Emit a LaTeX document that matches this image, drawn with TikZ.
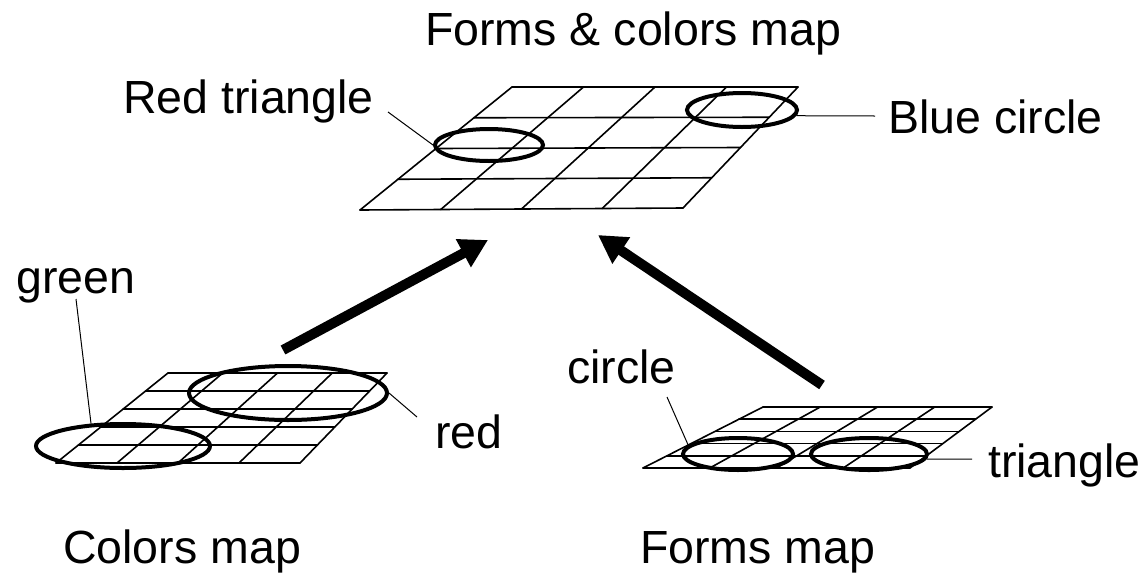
\documentclass[tikz,border=0pt]{standalone}
\usepackage{fontspec}
\setmainfont{Liberation Sans}
\usetikzlibrary{shapes.geometric,arrows.meta,calc}

\begin{document}
\begin{tikzpicture}[x=1pt, y=-1pt,
    every node/.style={font=\fontsize{46.5}{56}\selectfont, anchor=base west, inner sep=0pt},
    gridline/.style={line width=1.6pt, line cap=round},
    blob/.style={ellipse, draw, line width=4pt, inner sep=0pt, anchor=center},
    leader/.style={line width=1pt},
    bigarrow/.style={line width=10pt, -{Triangle[length=28pt, width=30pt]}}]
    \useasboundingbox (0,0) rectangle (1148,579);

    % Forms & colors map
    \coordinate (fcBL) at (360,210);
    \coordinate (fcBR) at (683,208);
    \coordinate (fcTL) at (512,87);
    \coordinate (fcTR) at (798,87);
    \foreach \i in {0,...,4} {
        \draw[gridline] ($(fcBL)!\i/4!(fcBR)$) -- ($(fcTL)!\i/4!(fcTR)$);
        \draw[gridline] ($(fcBL)!\i/4!(fcTL)$) -- ($(fcBR)!\i/4!(fcTR)$);
    }
    \node[blob, minimum width=108pt, minimum height=32pt] (rtE) at (489,145) {};
    \node[blob, minimum width=110pt, minimum height=34pt] (bcE) at (742,110) {};

    \node (fc) at (425,45) {Forms \& colors map};
    \node (rt) at (123,113) {Red triangle};
    \node (bc) at (888,133) {Blue circle};
    \coordinate (rtL) at (388,112);
    \coordinate (bcL) at (875,116);
    \draw[leader] (rtL) -- (rtE.west);
    \draw[leader] (bcE.-6) -- (bcL);

    % Colors map
    \coordinate (cBL) at (56,463);
    \coordinate (cBR) at (300,463);
    \coordinate (cTL) at (168,373);
    \coordinate (cTR) at (387,373);
    \foreach \i in {0,...,4}
        \draw[gridline] ($(cBL)!\i/4!(cBR)$) -- ($(cTL)!\i/4!(cTR)$);
    \foreach \j in {0,...,5}
        \draw[gridline] ($(cBL)!\j/5!(cTL)$) -- ($(cBR)!\j/5!(cTR)$);
    \node[blob, minimum width=174pt, minimum height=44pt] (gE) at (123,446) {};
    \node[blob, minimum width=198pt, minimum height=54pt] (rE) at (288,393) {};

    \node (g) at (16,293) {green};
    \node (r) at (435,448) {red};
    \node (cm) at (63,563) {Colors map};
    \coordinate (gL) at (76,299);
    \coordinate (rL) at (417,417);
    \draw[leader] (gL) -- (gE.145);
    \draw[leader] (rE.east) -- (rL);

    % Forms map
    \coordinate (fBL) at (643,468);
    \coordinate (fBR) at (910,468);
    \coordinate (fTL) at (763,407);
    \coordinate (fTR) at (992,407);
    \foreach \i in {0,...,4}
        \draw[gridline] ($(fBL)!\i/4!(fBR)$) -- ($(fTL)!\i/4!(fTR)$);
    \foreach \j in {0,...,5}
        \draw[gridline] ($(fBL)!\j/5!(fTL)$) -- ($(fBR)!\j/5!(fTR)$);
    \node[blob, minimum width=110pt, minimum height=32pt] (ciE) at (738,454) {};
    \node[blob, minimum width=116pt, minimum height=32pt] (trE) at (869,454) {};

    \node (ci) at (567,383) {circle};
    \node (tr) at (988,477) {triangle};
    \node (fm) at (640,563) {Forms map};
    \coordinate (ciL) at (667,397);
    \coordinate (trL) at (972,459);
    \draw[leader] (ciL) -- (ciE.170);
    \draw[leader] (trE.-5) -- (trL);

    % Arrows into the forms & colors map
    \coordinate (cTail) at (283,350);
    \coordinate (cTip) at (488,240);
    \coordinate (fTail) at (822,385);
    \coordinate (fTip) at (598,235);
    \draw[bigarrow] (cTail) -- (cTip);
    \draw[bigarrow] (fTail) -- (fTip);
\end{tikzpicture}
\end{document}
